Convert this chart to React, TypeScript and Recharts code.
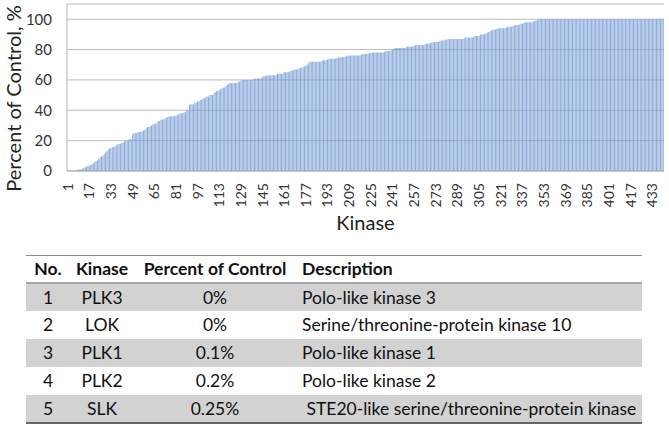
import React from "react";
import { BarChart, Bar, XAxis, YAxis, CartesianGrid, Label } from "recharts";

// percent of control for each kinase, sorted ascending
const percentOfControl: number[] = [
  0, 0, 0.1, 0.2, 0.25, 0.3,
  0.5, 0.8, 1, 1, 1.2, 1.5,
  2, 2.5, 3, 3.5, 3.5, 4,
  4.5, 5, 6, 6.5, 7, 8,
  9, 9.5, 10, 11, 12, 13,
  14, 15, 15, 15.5, 16, 16,
  17, 17.5, 18, 18, 18.5, 19,
  19.5, 20, 20, 20.5, 21, 21,
  24, 25, 25, 25, 25.5, 25.5,
  26, 26, 26.5, 27, 28, 29,
  29, 29.5, 30, 31, 31, 31,
  32, 33, 33, 34, 34, 34,
  34.5, 35, 35.5, 36, 36, 36,
  36, 36, 36.5, 37, 37, 38,
  38, 38, 38.5, 39, 40, 40,
  43.5, 44, 44, 44, 45, 45,
  46, 46, 47, 47, 48, 48,
  48.5, 49, 49, 50, 50, 50,
  51, 52, 52.5, 53, 53, 54,
  54.5, 55, 55, 56, 57, 57.5,
  58, 58, 58, 58, 58, 58,
  59, 59, 59.5, 60, 60, 60,
  60, 60, 60, 60, 60, 60.5,
  61, 61, 61, 61, 61, 61,
  62, 62.5, 62.5, 63, 63, 63,
  63, 63, 63, 63, 63, 64,
  64, 64, 64, 64, 65, 65,
  65, 65, 65.5, 66, 66, 66.5,
  67, 67, 67, 67.5, 68, 68,
  68.5, 69, 69.5, 70, 71, 72,
  72, 72, 72, 72, 72, 72,
  72, 72, 72.5, 73, 73, 73,
  73.5, 74, 74, 74, 74, 74,
  74, 74.5, 75, 75, 75, 75,
  75, 75.5, 75.5, 76, 76, 76,
  76, 76, 76, 76, 76, 76,
  76, 76.5, 77, 77, 77, 77,
  77, 77.5, 78, 78, 78, 78,
  78, 78, 78, 78, 78, 78,
  78.5, 79, 79, 79, 79, 79.5,
  80, 80.5, 81, 81, 81, 81,
  81, 81, 81, 81, 81.5, 82,
  82, 82, 82, 82, 82.5, 83,
  83, 83, 83, 83, 83, 83,
  83.5, 84, 84, 84, 84.5, 84.5,
  85, 85, 85, 85, 85, 85.5,
  86, 86, 86, 86.5, 86.5, 87,
  87, 87, 87, 87, 87, 87,
  87, 87, 87, 87, 87, 87.5,
  88, 88, 88, 88, 88, 88,
  88.5, 89, 89, 89, 89, 89.5,
  90, 90, 90, 90.5, 91, 91.5,
  92, 92.5, 93, 93, 93, 93.5,
  94, 94, 94, 94, 94, 94,
  94.5, 95, 95, 95, 95, 95.5,
  96, 96, 96, 96, 96.5, 97,
  97, 97.5, 98, 98, 98, 98,
  98, 98, 98.5, 99, 99, 99.5,
  100, 100, 100, 100, 100, 100, 100, 100, 100, 100,
  100, 100, 100, 100, 100, 100, 100, 100, 100, 100,
  100, 100, 100, 100, 100, 100, 100, 100, 100, 100,
  100, 100, 100, 100, 100, 100, 100, 100, 100, 100,
  100, 100, 100, 100, 100, 100, 100, 100, 100, 100,
  100, 100, 100, 100, 100, 100, 100, 100, 100, 100,
  100, 100, 100, 100, 100, 100, 100, 100, 100, 100,
  100, 100, 100, 100, 100, 100, 100, 100, 100, 100,
  100, 100, 100, 100, 100, 100, 100, 100, 100, 100,
  100, 100, 100,
];

const xTicks = [
  1, 17, 33, 49, 65, 81, 97, 113, 129, 145, 161, 177, 193, 209,
  225, 241, 257, 273, 289, 305, 321, 337, 353, 369, 385, 401, 417, 433,
];
const yTicks = [0, 20, 40, 60, 80, 100];

// top five hits, shown in the table under the chart
const hitNo = [1, 2, 3, 4, 5];
const hitKinase = ["PLK3", "LOK", "PLK1", "PLK2", "SLK"];
const hitPercent = ["0%", "0%", "0.1%", "0.2%", "0.25%"];
const hitDescription = [
  "Polo-like kinase 3",
  "Serine/threonine-protein kinase 10",
  "Polo-like kinase 1",
  "Polo-like kinase 2",
  " STE20-like serine/threonine-protein kinase",
];

const chartData = percentOfControl.map((value, i) => ({ no: i + 1, value }));

const FONT = "Lato, 'Open Sans', sans-serif";

const KinaseTick = (props: any) => {
  const { x, y, payload } = props;
  return (
    <text
      x={x}
      y={y}
      dy="0.35em"
      textAnchor="end"
      transform={`rotate(-90, ${x}, ${y})`}
      fontSize={14}
      fontFamily={FONT}
      fill="#333"
    >
      {payload.value}
    </text>
  );
};

const cell: React.CSSProperties = { padding: 0, textAlign: "center" };
const headCell: React.CSSProperties = {
  ...cell,
  fontWeight: 700,
  borderTop: "1px solid #8a8a8a",
  borderBottom: "2px solid #a6a6a6",
};

export default function App() {
  return (
    <div
      style={{
        position: "absolute",
        left: 0,
        top: 0,
        width: 669,
        height: 429,
        background: "#fff",
        fontFamily: FONT,
      }}
    >
      <BarChart
        width={669}
        height={240}
        data={chartData}
        margin={{ top: 4, right: 5, left: 0, bottom: 0 }}
        barCategoryGap="10%"
      >
        <CartesianGrid vertical={false} stroke="#bdbdbd" />
        <XAxis
          dataKey="no"
          ticks={xTicks}
          interval={0}
          tick={<KinaseTick />}
          tickLine={false}
          tickSize={0}
          tickMargin={12}
          height={69}
          axisLine={{ stroke: "#b0b0b0" }}
        >
          <Label
            content={({ viewBox }: any) => (
              <text
                x={viewBox.x + viewBox.width / 2}
                y={viewBox.y + 59}
                textAnchor="middle"
                fontSize={20}
                fontFamily={FONT}
                fill="#222"
              >
                Kinase
              </text>
            )}
          />
        </XAxis>
        <YAxis
          domain={[0, 110]}
          ticks={yTicks}
          width={67}
          tickLine={false}
          tickSize={0}
          tickMargin={15}
          axisLine={{ stroke: "#b0b0b0" }}
          tick={{ fontSize: 15, fill: "#333", fontFamily: FONT }}
        >
          <Label
            content={({ viewBox }: any) => {
              const cx = viewBox.x + 13;
              const cy = viewBox.y + viewBox.height / 2 + 11;
              return (
                <text
                  x={cx}
                  y={cy}
                  textAnchor="middle"
                  dominantBaseline="central"
                  transform={`rotate(-90, ${cx}, ${cy})`}
                  fontSize={20}
                  fontFamily={FONT}
                  fill="#222"
                >
                  Percent of Control, %
                </text>
              );
            }}
          />
        </YAxis>
        <Bar
          dataKey="value"
          fill="#6e96cf"
          fillOpacity={0.8}
          isAnimationActive={false}
        />
      </BarChart>

      <table
        style={{
          position: "absolute",
          left: 26,
          top: 255,
          width: 616,
          borderCollapse: "collapse",
          fontSize: 17.5,
          color: "#111",
        }}
      >
        <colgroup>
          <col style={{ width: 44 }} />
          <col style={{ width: 64 }} />
          <col style={{ width: 162 }} />
          <col style={{ width: 346 }} />
        </colgroup>
        <thead>
          <tr style={{ height: 27 }}>
            <th style={headCell}>No.</th>
            <th style={headCell}>Kinase</th>
            <th style={headCell}>Percent of Control</th>
            <th style={{ ...headCell, textAlign: "left", paddingLeft: 6 }}>
              Description
            </th>
          </tr>
        </thead>
        <tbody>
          {hitNo.map((no, i) => {
            const last = i === hitNo.length - 1;
            const row: React.CSSProperties = {
              ...cell,
              borderBottom: last ? "2px solid #666" : undefined,
            };
            return (
              <tr
                key={no}
                style={{ height: 28, background: i % 2 === 0 ? "#d2d2d2" : "#fff" }}
              >
                <td style={row}>{no}</td>
                <td style={row}>{hitKinase[i]}</td>
                <td style={row}>{hitPercent[i]}</td>
                <td
                  style={{ ...row, textAlign: "left", paddingLeft: 6, whiteSpace: "pre" }}
                >
                  {hitDescription[i]}
                </td>
              </tr>
            );
          })}
        </tbody>
      </table>
    </div>
  );
}
